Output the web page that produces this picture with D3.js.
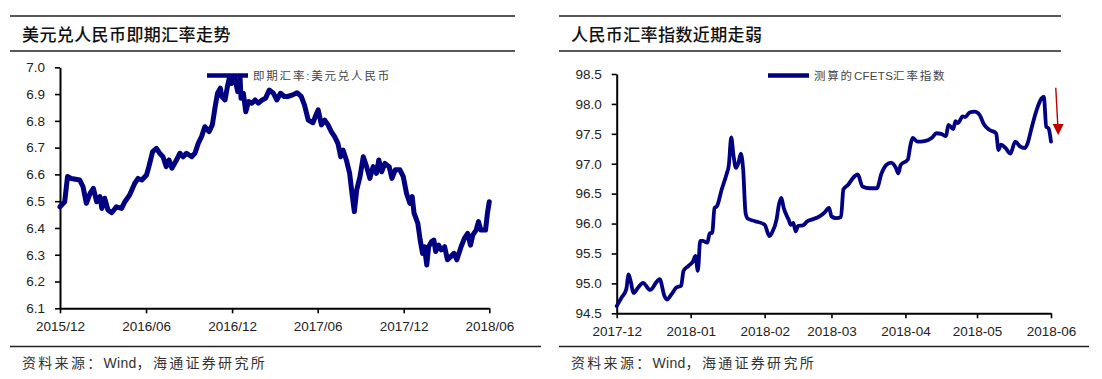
<!DOCTYPE html>
<html>
<head>
<meta charset="utf-8">
<script src="https://cdn.jsdelivr.net/npm/d3@7"></script>
<style>
  body { margin: 0; background: #fff; }
  svg text { font-family: "Liberation Sans", "Noto Sans CJK SC", sans-serif; }
</style>
</head>
<body>
<div id="chart_container"></div>
<script>
// page size
const WIDTH = 1102;
const HEIGHT = 379;
const LINE_COLOR = "#000080";

// left panel: USD/CNY spot rate
const usdCnyDates = [
  "2015-12-01", "2015-12-11", "2015-12-17", "2015-12-25", "2016-01-12", "2016-01-19",
  "2016-01-26", "2016-02-03", "2016-02-10", "2016-02-17", "2016-02-24", "2016-02-28",
  "2016-03-05", "2016-03-12", "2016-03-20", "2016-03-30", "2016-04-10", "2016-04-17",
  "2016-04-27", "2016-05-08", "2016-05-15", "2016-05-23", "2016-06-02", "2016-06-07",
  "2016-06-15", "2016-06-23", "2016-06-30", "2016-07-07", "2016-07-14", "2016-07-20",
  "2016-07-26", "2016-08-03", "2016-08-12", "2016-08-19", "2016-08-26", "2016-09-06",
  "2016-09-13", "2016-09-20", "2016-09-27", "2016-10-04", "2016-10-13", "2016-10-20",
  "2016-10-26", "2016-10-31", "2016-11-06", "2016-11-09", "2016-11-16", "2016-11-21",
  "2016-11-25", "2016-11-30", "2016-12-06", "2016-12-13", "2016-12-18", "2016-12-20",
  "2016-12-25", "2016-12-30", "2017-01-05", "2017-01-12", "2017-01-19", "2017-01-26",
  "2017-02-03", "2017-02-10", "2017-02-18", "2017-02-27", "2017-03-06", "2017-03-14",
  "2017-03-22", "2017-03-29", "2017-04-09", "2017-04-18", "2017-04-27", "2017-05-04",
  "2017-05-12", "2017-05-22", "2017-05-27", "2017-06-02", "2017-06-09", "2017-06-16",
  "2017-06-23", "2017-06-30", "2017-07-07", "2017-07-14", "2017-07-20", "2017-07-25",
  "2017-08-01", "2017-08-08", "2017-08-13", "2017-08-18", "2017-08-23", "2017-08-30",
  "2017-09-06", "2017-09-13", "2017-09-20", "2017-09-27", "2017-10-04", "2017-10-09",
  "2017-10-15", "2017-10-22", "2017-10-31", "2017-11-06", "2017-11-13", "2017-11-23",
  "2017-11-30", "2017-12-07", "2017-12-14", "2017-12-19", "2017-12-23", "2017-12-31",
  "2018-01-05", "2018-01-10", "2018-01-14", "2018-01-19", "2018-01-23", "2018-01-29",
  "2018-02-03", "2018-02-07", "2018-02-13", "2018-02-19", "2018-02-26", "2018-03-04",
  "2018-03-11", "2018-03-18", "2018-03-24", "2018-04-02", "2018-04-09", "2018-04-16",
  "2018-04-22", "2018-04-27", "2018-05-04", "2018-05-09", "2018-05-14", "2018-05-24",
  "2018-05-28", "2018-06-01",
];
const usdCnyValues = [
  6.479, 6.498, 6.592, 6.585, 6.579, 6.554,
  6.492, 6.529, 6.548, 6.498, 6.517, 6.473,
  6.511, 6.467, 6.457, 6.479, 6.473, 6.498,
  6.523, 6.567, 6.585, 6.579, 6.598, 6.629,
  6.685, 6.697, 6.679, 6.666, 6.629, 6.654,
  6.623, 6.648, 6.679, 6.666, 6.679, 6.666,
  6.679, 6.716, 6.741, 6.778, 6.760, 6.785,
  6.853, 6.903, 6.922, 6.891, 6.878, 6.928,
  6.959, 6.940, 6.965, 6.909, 6.959, 6.884,
  6.903, 6.834, 6.872, 6.866, 6.878, 6.866,
  6.878, 6.884, 6.915, 6.903, 6.878, 6.903,
  6.891, 6.891, 6.897, 6.905, 6.891, 6.859,
  6.803, 6.793, 6.816, 6.841, 6.785, 6.803,
  6.785, 6.760, 6.741, 6.716, 6.666, 6.691,
  6.654, 6.604, 6.529, 6.461, 6.542, 6.592,
  6.666, 6.629, 6.585, 6.629, 6.604, 6.654,
  6.610, 6.641, 6.629, 6.585, 6.617, 6.617,
  6.592, 6.529, 6.492, 6.517, 6.455, 6.417,
  6.355, 6.305, 6.330, 6.262, 6.330, 6.349,
  6.355, 6.312, 6.336, 6.318, 6.330, 6.281,
  6.293, 6.305, 6.281, 6.330, 6.361, 6.380,
  6.336, 6.374, 6.392, 6.424, 6.392, 6.392,
  6.455, 6.498,
];
const usdCnyXTicks = ["2015-12-01", "2016-06-01", "2016-12-01", "2017-06-01", "2017-12-01", "2018-06-01"];
const usdCnyYTicks = [6.1, 6.2, 6.3, 6.4, 6.5, 6.6, 6.7, 6.8, 6.9, 7.0];

// right panel: CFETS index estimate
const cfetsDates = [
  "2017-12-01", "2017-12-03", "2017-12-05", "2017-12-06", "2017-12-07", "2017-12-08",
  "2017-12-10", "2017-12-12", "2017-12-15", "2017-12-18", "2017-12-19", "2017-12-21",
  "2017-12-22", "2017-12-24", "2017-12-26", "2017-12-28", "2017-12-29", "2017-12-31",
  "2018-01-02", "2018-01-03", "2018-01-04", "2018-01-05", "2018-01-06", "2018-01-08",
  "2018-01-09", "2018-01-10", "2018-01-11", "2018-01-12", "2018-01-14", "2018-01-16",
  "2018-01-17", "2018-01-18", "2018-01-19", "2018-01-20", "2018-01-21", "2018-01-22",
  "2018-01-23", "2018-01-24", "2018-01-25", "2018-01-28", "2018-02-01", "2018-02-03",
  "2018-02-04", "2018-02-06", "2018-02-07", "2018-02-08", "2018-02-09", "2018-02-11",
  "2018-02-12", "2018-02-13", "2018-02-14", "2018-02-15", "2018-02-17", "2018-02-19",
  "2018-02-21", "2018-02-24", "2018-02-26", "2018-02-28", "2018-03-01", "2018-03-03",
  "2018-03-05", "2018-03-06", "2018-03-08", "2018-03-10", "2018-03-12", "2018-03-14",
  "2018-03-17", "2018-03-20", "2018-03-22", "2018-03-24", "2018-03-26", "2018-03-28",
  "2018-03-29", "2018-03-30", "2018-04-02", "2018-04-03", "2018-04-04", "2018-04-06",
  "2018-04-09", "2018-04-12", "2018-04-14", "2018-04-16", "2018-04-18", "2018-04-19",
  "2018-04-21", "2018-04-22", "2018-04-23", "2018-04-25", "2018-04-26", "2018-04-28",
  "2018-04-30", "2018-05-02", "2018-05-04", "2018-05-06", "2018-05-09", "2018-05-10",
  "2018-05-11", "2018-05-13", "2018-05-15", "2018-05-17", "2018-05-19", "2018-05-21",
  "2018-05-22", "2018-05-24", "2018-05-26", "2018-05-28", "2018-05-29", "2018-05-30",
  "2018-05-31", "2018-06-01",
];
const cfetsValues = [
  94.62, 94.76, 94.90, 95.15, 95.01, 94.84,
  94.93, 95.01, 94.89, 95.04, 95.07, 94.79,
  94.73, 94.82, 94.93, 94.96, 95.21, 95.29,
  95.37, 95.46, 95.21, 95.71, 95.71, 95.68,
  95.84, 95.84, 96.26, 96.29, 96.57, 96.82,
  96.98, 97.44, 97.12, 96.93, 97.01, 97.17,
  96.90, 96.18, 96.08, 96.04, 95.98, 95.79,
  95.84, 96.07, 96.32, 96.43, 96.26, 96.07,
  95.98, 96.01, 95.87, 95.96, 95.97, 96.04,
  96.07, 96.12, 96.18, 96.26, 96.12, 96.09,
  96.11, 96.57, 96.65, 96.76, 96.82, 96.62,
  96.59, 96.59, 96.84, 96.98, 97.02, 96.93,
  96.84, 96.98, 97.07, 97.29, 97.43, 97.37,
  97.38, 97.43, 97.51, 97.50, 97.46, 97.65,
  97.58, 97.71, 97.68, 97.79, 97.78, 97.86,
  97.87, 97.82, 97.65, 97.57, 97.51, 97.23,
  97.32, 97.26, 97.17, 97.37, 97.29, 97.26,
  97.32, 97.62, 97.90, 98.09, 98.12, 97.62,
  97.59, 97.37,
];
const cfetsXTicks = ["2017-12-01", "2018-01-01", "2018-02-01", "2018-03-01", "2018-04-01", "2018-05-01", "2018-06-01"];
const cfetsYTicks = [94.5, 95.0, 95.5, 96.0, 96.5, 97.0, 97.5, 98.0, 98.5];

// red "weakening" arrow next to the last point
const arrowDates = ["2018-06-03", "2018-06-04"];
const arrowValues = [98.27, 97.48];

const parseDate = d3.timeParse("%Y-%m-%d");

const svg = d3
  .select("#chart_container")
  .append("svg")
  .attr("width", WIDTH)
  .attr("height", HEIGHT)
  .style("background", "#fff");

// horizontal rule helper
const drawRule = (x1, x2, y) => {
  svg
    .append("line")
    .attr("x1", x1)
    .attr("x2", x2)
    .attr("y1", y)
    .attr("y2", y)
    .attr("stroke", "#222")
    .attr("stroke-width", 1.5);
};

// text made of parts; latin parts get no extra spacing
const spacedText = (sel, parts, spacing) => {
  parts.forEach((p) => {
    sel
      .append("tspan")
      .style("letter-spacing", /^[A-Za-z]+$/.test(p) ? "0.3px" : spacing)
      .text(p);
  });
};

// draws one panel (title, axes, line, legend, source)
const renderPanel = ({
  title,
  left,
  ruleRight,
  bottomRuleRight,
  dates,
  values,
  xDomain,
  xRange,
  yDomain,
  yRange,
  xTicks,
  yTicks,
  xFormat,
  lineWidth,
  curve,
  legendParts,
  legendX,
}) => {
  const g = svg.append("g");

  drawRule(left, ruleRight, 16);
  drawRule(left, ruleRight, 51);
  drawRule(left, bottomRuleRight, 346.5);

  g.append("text")
    .attr("x", left + 12)
    .attr("y", 41)
    .style("font-family", "'Noto Sans CJK SC', sans-serif")
    .style("font-size", "17px")
    .style("font-weight", 500)
    .style("letter-spacing", "0.4px")
    .style("fill", "#111")
    .text(title);

  const footer = g
    .append("text")
    .attr("x", left + 12)
    .attr("y", 368)
    .style("font-size", "14px")
    .style("fill", "#333");
  spacedText(footer, ["资料来源：", "Wind", "，海通证券研究所"], "2.3px");

  const x = d3.scaleTime().domain(xDomain.map(parseDate)).range(xRange);
  const y = d3.scaleLinear().domain(yDomain).range(yRange);

  // y axis
  const yAxis = g
    .append("g")
    .attr("transform", `translate(${xRange[0]},0)`)
    .call(
      d3.axisLeft(y)
        .tickValues(yTicks)
        .tickFormat(d3.format(".1f"))
        .tickSize(5)
        .tickSizeOuter(0)
        .tickPadding(10)
    );

  // x axis
  const xAxis = g
    .append("g")
    .attr("transform", `translate(0,${yRange[0]})`)
    .call(
      d3.axisBottom(x)
        .tickValues(xTicks.map(parseDate))
        .tickFormat(d3.timeFormat(xFormat))
        .tickSize(5)
        .tickSizeOuter(0)
        .tickPadding(8)
    );

  [yAxis, xAxis].forEach((axis) => {
    axis.select(".domain").attr("stroke", "#000").attr("stroke-width", 2);
    axis.selectAll(".tick line").attr("stroke", "#000").attr("stroke-width", 1.6);
    axis
      .selectAll("text")
      .style("font-family", "'Liberation Sans', Arial, sans-serif")
      .style("font-size", "13.5px")
      .style("fill", "#222");
  });

  // the series
  const line = d3
    .line()
    .x((d) => x(d.date))
    .y((d) => y(d.value))
    .curve(curve);

  const data = dates.map((d, i) => ({ date: parseDate(d), value: values[i] }));

  g.append("path")
    .datum(data)
    .attr("d", line)
    .attr("fill", "none")
    .attr("stroke", LINE_COLOR)
    .attr("stroke-width", lineWidth)
    .attr("stroke-linejoin", "round")
    .attr("stroke-linecap", "round");

  // legend
  g.append("line")
    .attr("x1", legendX)
    .attr("x2", legendX + 41)
    .attr("y1", 75.5)
    .attr("y2", 75.5)
    .attr("stroke", LINE_COLOR)
    .attr("stroke-width", 4.5);

  const legendText = g
    .append("text")
    .attr("x", legendX + 46)
    .attr("y", 80)
    .style("font-size", "11.5px")
    .style("fill", "#444");
  spacedText(legendText, legendParts, "1.8px");

  return { x, y, g };
};

// left: USD/CNY
renderPanel({
  title: "美元兑人民币即期汇率走势",
  left: 10,
  ruleRight: 515,
  bottomRuleRight: 541,
  dates: usdCnyDates,
  values: usdCnyValues,
  xDomain: ["2015-12-01", "2018-06-01"],
  xRange: [60, 489.3],
  yDomain: [6.1, 7.0],
  yRange: [308.3, 67.3],
  xTicks: usdCnyXTicks,
  yTicks: usdCnyYTicks,
  xFormat: "%Y/%m",
  lineWidth: 5,
  curve: d3.curveLinear,
  legendParts: ["即期汇率:美元兑人民币"],
  legendX: 207,
});

// right: CFETS index
const right = renderPanel({
  title: "人民币汇率指数近期走弱",
  left: 559,
  ruleRight: 1061,
  bottomRuleRight: 1089,
  dates: cfetsDates,
  values: cfetsValues,
  xDomain: ["2017-12-01", "2018-06-01"],
  xRange: [616.7, 1051],
  yDomain: [94.5, 98.5],
  yRange: [313.3, 74],
  xTicks: cfetsXTicks,
  yTicks: cfetsYTicks,
  xFormat: "%Y-%m",
  lineWidth: 3.8,
  curve: d3.curveMonotoneX,
  legendParts: ["测算的", "CFETS", "汇率指数"],
  legendX: 768,
});

// red arrow
const ax0 = right.x(parseDate(arrowDates[0]));
const ay0 = right.y(arrowValues[0]);
const ax1 = right.x(parseDate(arrowDates[1]));
const ay1 = right.y(arrowValues[1]);

right.g
  .append("line")
  .attr("x1", ax0)
  .attr("y1", ay0)
  .attr("x2", ax1 - 0.4)
  .attr("y2", ay1 - 10)
  .attr("stroke", "#c00000")
  .attr("stroke-width", 1.4);

right.g
  .append("path")
  .attr("d", `M${ax1 - 5.5},${ay1 - 11} L${ax1 + 5.5},${ay1 - 11} L${ax1},${ay1} Z`)
  .attr("fill", "#c00000");
</script>
</body>
</html>
